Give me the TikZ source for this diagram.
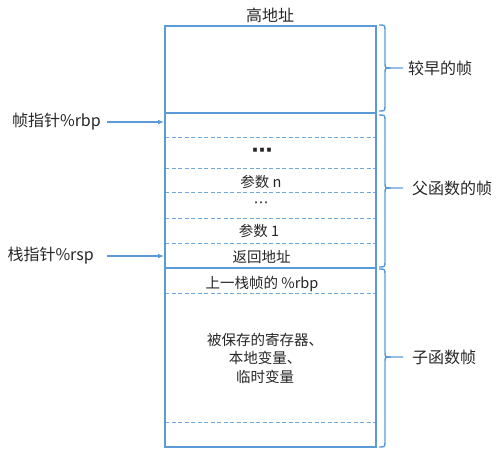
\documentclass[tikz,border=0pt]{standalone}
\usepackage{fontspec}
\setmainfont{Noto Sans CJK SC}
\newfontfamily\symfont{DejaVu Sans}
\usetikzlibrary{arrows.meta}
\definecolor{frameblue}{HTML}{5B9BD5}
\definecolor{dashblue}{HTML}{6FA8DC}
\definecolor{txt}{HTML}{262626}
\tikzset{
  frame/.style={draw=frameblue, line width=1.6pt},
  sep/.style={draw=dashblue, line width=0.8pt, dash pattern=on 4pt off 2.5pt},
  solidsep/.style={draw=frameblue, line width=1.6pt},
  rowtext/.style={text=txt, font=\fontsize{14.5}{18.5}\selectfont, inner sep=0pt, align=center},
  sidetext/.style={text=txt, font=\fontsize{16}{19}\selectfont, inner sep=0pt},
  ptr/.style={draw=frameblue, line width=1.6pt, -{Latex[length=6pt,width=5pt]}},
  bracestyle/.style={draw=frameblue, line width=1.4pt, line join=round}
}
\newcommand{\mybrace}[3]{% y1, ym, y2
  \draw[bracestyle] (379,#1) .. controls (385,#1) .. (385,#1+6) -- (385,#2-5) .. controls (385,#2) .. (391,#2) -- (403,#2);
  \draw[bracestyle] (379,#3) .. controls (385,#3) .. (385,#3-6) -- (385,#2+5) .. controls (385,#2) .. (391,#2);
}
\begin{document}
\begin{tikzpicture}[x=1pt,y=-1pt]
\useasboundingbox (0,0) rectangle (502,458);
% dashed separators
\foreach \yy in {137,168,192,218,243,293,422}{
  \draw[sep] (165,\yy) -- (376,\yy);
}
% solid separators
\draw[solidsep] (165,113) -- (376,113);
\draw[solidsep] (165,268) -- (376,268);
% frame
\draw[frame] (165,26) rectangle (376,447);
% texts
\node[sidetext] (high) at (270,15) {高地址};
\node[text=txt, inner sep=0pt] (dots1) at (262,153) {\symfont\bfseries\fontsize{21}{21}\selectfont ⋯};
\node[rowtext] (argn) at (261,182) {参数 n};
\node[text=txt, inner sep=0pt] (dots2) at (261,205) {\symfont\fontsize{15}{15}\selectfont ⋯};
\node[rowtext] (arg1) at (259,231) {参数 1};
\node[rowtext] (ret) at (261.5,257) {返回地址};
\node[rowtext] (prevrbp) at (262,284) {上一栈帧的 \%rbp};
\node[rowtext] (locals) at (265,358) {被保存的寄存器、\\本地变量、\\临时变量};
% pointers
\node[sidetext, anchor=east] (rbp) at (101,122) {帧指针\%rbp};
\node[sidetext, anchor=east] (rsp) at (94,256) {栈指针\%rsp};
\coordinate (rbpend) at (164,122);
\coordinate (rspend) at (164,256);
\draw[ptr] (107,122) -- (rbpend);
\draw[ptr] (107,256) -- (rspend);
% braces
\mybrace{25}{68}{111}
\mybrace{115}{188}{267}
\mybrace{269}{357}{447}
\node[sidetext, anchor=west] (early) at (408,68) {较早的帧};
\node[sidetext, anchor=west] (parent) at (412,188) {父函数的帧};
\node[sidetext, anchor=west] (child) at (412,357) {子函数帧};
\end{tikzpicture}
\end{document}
